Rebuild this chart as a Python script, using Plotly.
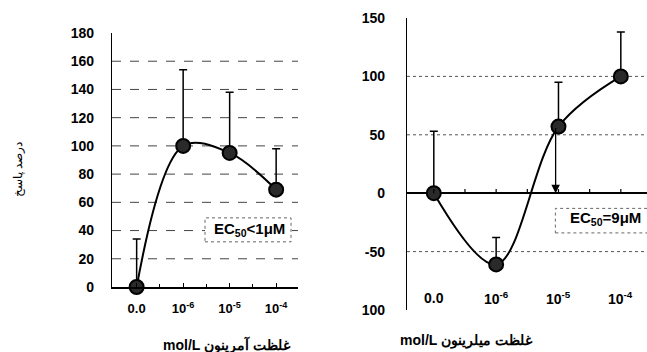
import numpy as np
import plotly.graph_objects as go

# ---------------- data ----------------
x_labels = ["0.0", "10<sup>-6</sup>", "10<sup>-5</sup>", "10<sup>-4</sup>"]
x_pos = [0, 1, 2, 3]

amrinone_mean = [0, 100, 95, 69]
amrinone_top = [34, 154, 138, 98]

milrinone_mean = [0, -61, 57, 100]
milrinone_top = [53, -38, 95, 138]

left_yticks = [0, 20, 40, 60, 80, 100, 120, 140, 160, 180]
right_yticks = [150, 100, 50, 0, -50, -100]
right_yticktext = ["150", "100", "50", "0", "-50", "100"]
left_grid = [20, 40, 60, 80, 100, 120, 140, 160]
right_grid = [100, 50, -50]

ec50_milrinone = 9e-6  # mol/L

left_xtitle = "mol/L غلظت آمرینون"
right_xtitle = "mol/L غلظت میلرینون"
ytitle = "درصد پاسخ"

FONT = "Liberation Sans, Arial, sans-serif"

fig = go.Figure()

def add_series(xa, ya, mean, top):
    err = [t - m for t, m in zip(top, mean)]
    fig.add_trace(go.Scatter(
        x=x_pos, y=mean, mode="markers", xaxis=xa, yaxis=ya,
        marker=dict(size=1, color="rgba(0,0,0,0)"),
        error_y=dict(type="data", symmetric=False, array=err,
                     arrayminus=[0] * len(err), width=4, thickness=1.5,
                     color="black"),
        cliponaxis=False, showlegend=False, hoverinfo="skip"))
    fig.add_trace(go.Scatter(
        x=x_pos, y=mean, mode="lines", xaxis=xa, yaxis=ya,
        line=dict(color="black", width=2, shape="spline", smoothing=1.0),
        cliponaxis=False, showlegend=False))
    fig.add_trace(go.Scatter(
        x=x_pos, y=mean, mode="markers", xaxis=xa, yaxis=ya,
        marker=dict(size=14, color="#2a2a2a", line=dict(color="black", width=2)),
        cliponaxis=False, showlegend=False))

add_series("x", "y", amrinone_mean, amrinone_top)
add_series("x2", "y2", milrinone_mean, milrinone_top)

shapes = []
for g in left_grid:
    shapes.append(dict(type="line", xref="x domain", yref="y", x0=0, x1=1,
                       y0=g, y1=g, line=dict(color="#444", width=1, dash="dash"),
                       layer="below"))
for g in right_grid:
    shapes.append(dict(type="line", xref="x2 domain", yref="y2", x0=0, x1=1,
                       y0=g, y1=g, line=dict(color="#555", width=1, dash="dot"),
                       layer="below"))
for t in np.arange(0, 3.01, 0.5):
    shapes.append(dict(type="line", xref="x2", yref="y2", x0=t, x1=t,
                       y0=0, y1=3.5, line=dict(color="black", width=1.2)))

shapes.append(dict(type="rect", xref="x", yref="y", x0=1.47, x1=3.32, y0=32, y1=49,
                   fillcolor="white", line=dict(color="#666", width=1, dash="dot")))
shapes.append(dict(type="rect", xref="x2", yref="y2", x0=1.95, x1=3.5, y0=-34, y1=-13,
                   fillcolor="white", line=dict(color="#666", width=1, dash="dot")))

annotations = []
annotations.append(dict(text="EC<sub>50</sub><1μM", xref="x", yref="y", x=2.42, y=40.5,
                        showarrow=False, font=dict(family=FONT, size=15, color="black", weight="bold")))
annotations.append(dict(text="EC<sub>50</sub>=9μM", xref="x2", yref="y2", x=2.76, y=-22,
                        showarrow=False, font=dict(family=FONT, size=15, color="black", weight="bold")))

ec50_x = 1 + (np.log10(ec50_milrinone) + 6)
annotations.append(dict(x=ec50_x, y=0, ax=ec50_x, ay=milrinone_mean[2], xref="x2", yref="y2",
                        axref="x2", ayref="y2", text="", showarrow=True, arrowhead=2,
                        arrowsize=1.3, arrowwidth=1.3, arrowcolor="black"))

for xp, lab in zip(x_pos, x_labels):
    annotations.append(dict(text=lab, xref="x2", yref="paper", x=xp, y=1 - 298 / 352,
                            showarrow=False, xanchor="center", yanchor="middle",
                            font=dict(family=FONT, size=14, color="black", weight="bold")))

annotations.append(dict(text=left_xtitle, xref="paper", yref="paper", x=227 / 647, y=1 - 345 / 352,
                        xanchor="center", yanchor="middle", showarrow=False,
                        font=dict(family=FONT, size=14, color="black", weight="bold")))
annotations.append(dict(text=right_xtitle, xref="paper", yref="paper", x=466 / 647, y=1 - 340 / 352,
                        xanchor="center", yanchor="middle", showarrow=False,
                        font=dict(family=FONT, size=14, color="black", weight="bold")))
annotations.append(dict(text=ytitle, xref="paper", yref="paper", x=18 / 647, y=1 - 170 / 352,
                        xanchor="center", yanchor="middle", showarrow=False, textangle=-90,
                        font=dict(family=FONT, size=12, color="black")))

tickfont = dict(family=FONT, size=14, color="black", weight="bold")

fig.update_layout(
    width=647, height=352,
    margin=dict(l=0, r=0, t=0, b=0, autoexpand=False),
    paper_bgcolor="white", plot_bgcolor="white",
    showlegend=False,
    shapes=shapes, annotations=annotations,
    xaxis=dict(domain=[112 / 647, 298 / 647], range=[-0.53, 3.47], anchor="y",
               automargin=False,
               showline=True, linecolor="black", linewidth=1.5,
               tickvals=x_pos, ticktext=x_labels, ticks="inside", ticklen=4,
               tickcolor="black",
               minor=dict(tickmode="array", tickvals=list(np.arange(0.5, 3.5, 1.0)),
                          ticks="inside", ticklen=3, tickcolor="black"),
               ticklabelstandoff=9,
               tickfont=dict(family=FONT, size=13, color="black", weight="bold"),
               showgrid=False, zeroline=False, fixedrange=True),
    yaxis=dict(domain=[1 - 287 / 352, 1 - 33 / 352], range=[0, 180], anchor="x",
               automargin=False,
               showline=True, linecolor="black", linewidth=1.2,
               tickvals=left_yticks, ticks="", ticklabelstandoff=14,
               tickfont=tickfont, showgrid=False, zeroline=False),
    xaxis2=dict(domain=[407 / 647, 1.0], range=[-0.43, 3.42], anchor="y2",
                automargin=False,
                showline=False, showticklabels=False, ticks="",
                showgrid=False, zeroline=False),
    yaxis2=dict(domain=[1 - 310 / 352, 1 - 18 / 352], range=[-100, 150], anchor="x2",
                automargin=False,
                showline=True, linecolor="black", linewidth=1.2,
                tickvals=right_yticks, ticktext=right_yticktext, ticks="",
                ticklabelstandoff=18, tickfont=tickfont, showgrid=False,
                zeroline=True, zerolinecolor="black", zerolinewidth=1.5),
)

fig.write_html("out.html")
